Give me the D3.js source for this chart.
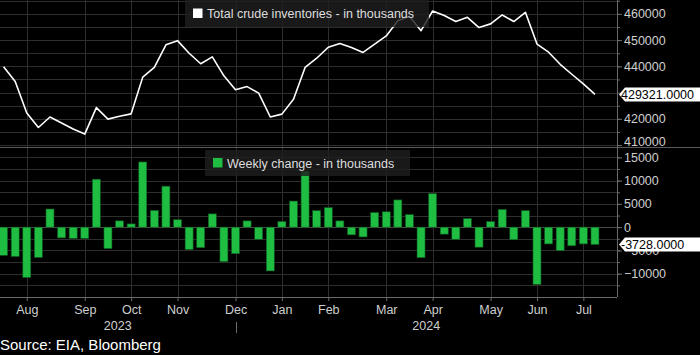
<!DOCTYPE html>
<html>
<head>
<meta charset="utf-8">
<script src="https://cdn.jsdelivr.net/npm/d3@7"></script>
<style>
  html, body { margin: 0; padding: 0; background: #000; }
  svg { display: block; font-family: "Liberation Sans", Arial, sans-serif; }
</style>
</head>
<body>
<svg id="chart" width="700" height="355"></svg>
<script>
// ---- DATA ----
const weeks = [
  "2023-07-21","2023-07-28","2023-08-04","2023-08-11","2023-08-18","2023-08-25","2023-09-01","2023-09-08",
  "2023-09-15","2023-09-22","2023-09-29","2023-10-06","2023-10-13","2023-10-20","2023-10-27","2023-11-03",
  "2023-11-10","2023-11-17","2023-11-24","2023-12-01","2023-12-08","2023-12-15","2023-12-22","2023-12-29",
  "2024-01-05","2024-01-12","2024-01-19","2024-01-26","2024-02-02","2024-02-09","2024-02-16","2024-02-23",
  "2024-03-01","2024-03-08","2024-03-15","2024-03-22","2024-03-29","2024-04-05","2024-04-12","2024-04-19",
  "2024-04-26","2024-05-03","2024-05-10","2024-05-17","2024-05-24","2024-05-31","2024-06-07","2024-06-14",
  "2024-06-21","2024-06-28","2024-07-05","2024-07-12"
];
// Total crude inventories, thousands of barrels
const inventories = [
  439900, 434200, 422200, 416700, 420700, 418400, 416100, 414200,
  424300, 419900, 421000, 421900, 435900, 439600, 448200, 449800,
  445000, 441000, 443600, 436400, 431100, 432300, 429800, 420700,
  421800, 427500, 439600, 443100, 447300, 448700, 447200, 445300,
  448500, 451600, 457400, 459100, 453600, 461100, 459400, 457100,
  458700, 454800, 456200, 459600, 457100, 460600, 448500, 445400,
  440800, 437000, 433300, 429321
];
// Weekly change, thousands of barrels
const weeklyChange = [
  -6050, -6300, -10800, -6500, 3900, -2300, -2400, -2400,
  10300, -4600, 1350, 700, 14000, 3600, 8800, 1600,
  -4800, -4400, 2850, -7400, -5700, 1350, -2600, -9400,
  1200, 5600, 12000, 3550, 4200, 1350, -1650, -2100,
  3150, 3300, 5850, 2700, -6550, 7200, -1500, -2600,
  1850, -4300, 1200, 3800, -2700, 3550, -12300, -3600,
  -5050, -4000, -3600, -3728
];
const monthTicks = ["2023-08-04","2023-09-08","2023-10-06","2023-11-03","2023-12-08","2024-01-05",
                    "2024-02-02","2024-03-08","2024-04-05","2024-05-10","2024-06-07","2024-07-05"];
const yearLabels = ["2023", "2024"];
const yearBreak = "2023-12-08";
const topTicks = [410000, 420000, 440000, 450000, 460000];
const bottomTicks = [-10000, -5000, 0, 5000, 10000, 15000];
const seriesNames = ["Total crude inventories - in thousands", "Weekly change - in thousands"];
const sourceText = "Source: EIA, Bloomberg";

// ---- LAYOUT ----
const W = 700, plotRight = 617, topY0 = 0, topY1 = 147.7, botY0 = 148, botY1 = 297;
const svg = d3.select("#chart");
svg.append("rect").attr("width", W).attr("height", 355).attr("fill", "#000");

const x = d3.scaleLinear().domain([-0.31, 52.9]).range([0, plotRight]);
const idxOf = d => weeks.indexOf(d);
const yTop = d3.scaleLinear().domain([409000, 465300]).range([topY1, topY0]);
const yBot = d3.scaleLinear().domain([-15000, 17000]).range([botY1, botY0]);

const gridColor = "#2e2e2e";
const axisColor = "#6a6a6a";
const textColor = "#cfcfcf";

// horizontal gridlines
const g = svg.append("g");
g.selectAll(".hgt").data(d3.range(410000, 465001, 5000)).join("line")
  .attr("x1", 0).attr("x2", plotRight)
  .attr("y1", d => Math.round(yTop(d)) + 0.5).attr("y2", d => Math.round(yTop(d)) + 0.5)
  .attr("stroke", gridColor);
g.selectAll(".hgb").data(d3.range(-15000, 17001, 2500).filter(v => v > -15000)).join("line")
  .attr("x1", 0).attr("x2", plotRight)
  .attr("y1", d => Math.round(yBot(d)) + 0.5).attr("y2", d => Math.round(yBot(d)) + 0.5)
  .attr("stroke", d => d === 0 ? "#4a4a4a" : gridColor);
// vertical gridlines
g.selectAll(".vg").data(monthTicks).join("line")
  .attr("x1", d => Math.round(x(idxOf(d))) + 0.5).attr("x2", d => Math.round(x(idxOf(d))) + 0.5)
  .attr("y1", 0).attr("y2", botY1)
  .attr("stroke", gridColor);

// bars
const barW = 8;
svg.append("g").selectAll("rect").data(weeklyChange).join("rect")
  .attr("x", (d, i) => x(i) - barW / 2)
  .attr("width", barW)
  .attr("y", d => yBot(Math.max(0, d)))
  .attr("height", d => Math.abs(yBot(d) - yBot(0)))
  .attr("fill", "#1fbd42")
  .attr("stroke", "#0f5a20").attr("stroke-width", 0.6);

// line
svg.append("path").datum(inventories)
  .attr("d", d3.line().x((d, i) => x(i)).y(d => yTop(d)))
  .attr("fill", "none").attr("stroke", "#fff").attr("stroke-width", 1.6)
  .attr("stroke-linejoin", "round");

// panel separator
svg.append("line").attr("x1", 0).attr("x2", W).attr("y1", 147.5).attr("y2", 147.5)
  .attr("stroke", "#5a5a5a").attr("stroke-width", 1.2);

// right axes
const axTop = d3.axisRight(yTop).tickValues(topTicks).tickSize(5).tickFormat(d3.format("d"));
const axTopMinor = d3.axisRight(yTop).tickValues(d3.range(410000, 465001, 5000)).tickSize(3).tickFormat("");
const axBot = d3.axisRight(yBot).tickValues(bottomTicks).tickSize(5).tickFormat(d3.format("d"));
const axBotMinor = d3.axisRight(yBot).tickValues(d3.range(-12500, 17001, 2500)).tickSize(3).tickFormat("");

function styleAxis(sel) {
  sel.select(".domain").remove();
  sel.selectAll("line").attr("stroke", axisColor);
  sel.selectAll("text").attr("fill", textColor).attr("font-size", "12.5px")
    .attr("font-family", "Liberation Sans, Arial, sans-serif").attr("x", 7);
}
svg.append("g").attr("transform", `translate(${plotRight},0)`).call(axTopMinor).call(styleAxis);
const gt = svg.append("g").attr("transform", `translate(${plotRight},0)`).call(axTop).call(styleAxis);
gt.selectAll(".tick").filter(d => d === 410000).select("text").attr("dy", "0.05em");
svg.append("g").attr("transform", `translate(${plotRight},0)`).call(axBotMinor).call(styleAxis);
svg.append("g").attr("transform", `translate(${plotRight},0)`).call(axBot).call(styleAxis);
svg.append("line").attr("x1", plotRight + 0.5).attr("x2", plotRight + 0.5).attr("y1", 0).attr("y2", botY1)
  .attr("stroke", axisColor);

// bottom axis
const xAxis = d3.axisBottom(x).tickValues(monthTicks.map(idxOf)).tickSize(4)
  .tickFormat(i => d3.timeFormat("%b")(d3.timeParse("%Y-%m-%d")(weeks[i])));
const gx = svg.append("g").attr("transform", `translate(0,${botY1})`).call(xAxis);
gx.select(".domain").attr("d", `M0,0.5H${plotRight}`).attr("stroke", axisColor);
gx.selectAll("line").attr("stroke", axisColor);
gx.selectAll("text").attr("fill", textColor).attr("font-size", "12.5px")
  .attr("font-family", "Liberation Sans, Arial, sans-serif").attr("y", 8);

// year labels
const breakX = x(idxOf(yearBreak));
svg.append("line").attr("x1", Math.round(breakX) + 0.5).attr("x2", Math.round(breakX) + 0.5)
  .attr("y1", 322).attr("y2", 333).attr("stroke", axisColor);
svg.selectAll(".yr").data(yearLabels).join("text")
  .attr("x", (d, i) => i === 0 ? breakX / 2 : (breakX + plotRight) / 2)
  .attr("y", 330).attr("text-anchor", "middle")
  .attr("fill", textColor).attr("font-size", "12.5px").text(d => d);

// legends
function legend(x0, y0, w, h, color, label) {
  const lg = svg.append("g");
  lg.append("rect").attr("x", x0).attr("y", y0).attr("width", w).attr("height", h)
    .attr("fill", "#1e1e1e").attr("fill-opacity", 0.82);
  lg.append("rect").attr("x", x0 + 8).attr("y", y0 + h / 2 - 5).attr("width", 9.5).attr("height", 9.5)
    .attr("fill", color);
  lg.append("text").attr("x", x0 + 22).attr("y", y0 + h / 2 + 4.5)
    .attr("fill", "#dedede").attr("font-size", "12.5px").text(label);
}
legend(185, 0, 244, 27, "#ffffff", seriesNames[0]);
legend(205, 150, 205, 26, "#1fbd42", seriesNames[1]);

// last value tags
function tag(cy, label) {
  const tg = svg.append("g");
  tg.append("path").attr("d", `M619,${cy}L625,${cy - 7}H700V${cy + 7}H625Z`).attr("fill", "#fff");
  tg.append("text").attr("x", 621).attr("y", cy + 4.5).attr("fill", "#000")
    .attr("font-size", "12.5px").text(label);
}
tag(yTop(inventories[inventories.length - 1]), d3.format(".4f")(inventories[inventories.length - 1]));
tag(yBot(weeklyChange[weeklyChange.length - 1]), d3.format(".4f")(weeklyChange[weeklyChange.length - 1]).replace("−", "-"));

// source
svg.append("text").attr("x", 0).attr("y", 350).attr("fill", "#fff").attr("font-size", "15px").text(sourceText);
</script>
</body>
</html>
